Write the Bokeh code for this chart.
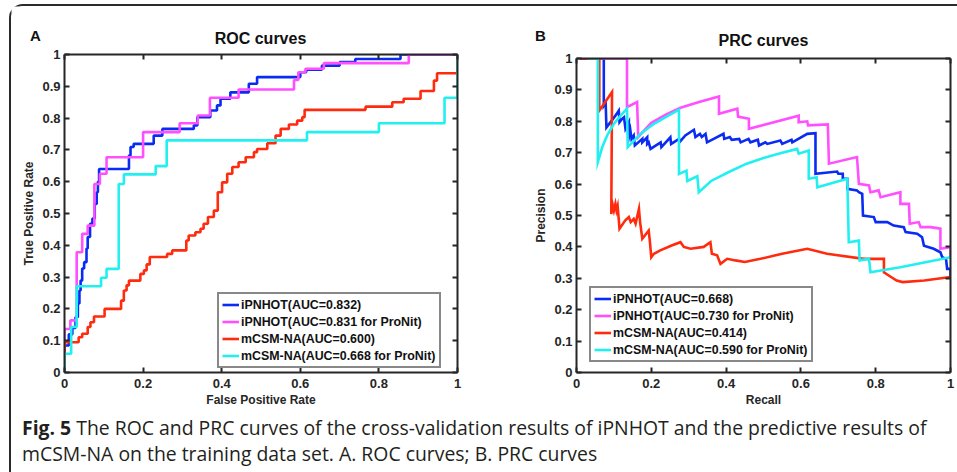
from bokeh.plotting import figure
from bokeh.models import Range1d, LinearAxis, FixedTicker, Legend, LegendItem, Label, Div
from bokeh.layouts import row, column
from bokeh.embed import file_html
from bokeh.resources import INLINE

# ---------------------------------------------------------------- data
tick_x = [0, 0.2, 0.4, 0.6, 0.8, 1]
tick_x_labels = ["0", "0.2", "0.4", "0.6", "0.8", "1"]
tick_y = [0, 0.1, 0.2, 0.3, 0.4, 0.5, 0.6, 0.7, 0.8, 0.9, 1]
tick_y_labels = ["0", "0.1", "0.2", "0.3", "0.4", "0.5", "0.6", "0.7", "0.8", "0.9", "1"]

roc_legend = ["iPNHOT(AUC=0.832)", "iPNHOT(AUC=0.831 for ProNit)",
              "mCSM-NA(AUC=0.600)", "mCSM-NA(AUC=0.668 for ProNit)"]
prc_legend = ["iPNHOT(AUC=0.668)", "iPNHOT(AUC=0.730 for ProNit)",
              "mCSM-NA(AUC=0.414)", "mCSM-NA(AUC=0.590 for ProNit)"]

# ROC curves: (FPR, TPR) steps, horizontal run then vertical jump
roc_fpr_ipnhot = [0, 0, 0.011, 0.02, 0.028, 0.034, 0.038, 0.041, 0.045, 0.05, 0.056, 0.059,
                  0.065, 0.071, 0.077, 0.082, 0.085, 0.088, 0.164, 0.168, 0.176, 0.227, 0.249,
                  0.329, 0.338, 0.371, 0.388, 0.397, 0.422, 0.469, 0.49, 0.60, 0.615, 0.655,
                  0.70, 0.74, 0.855, 1.0]
roc_tpr_ipnhot = [0, 0.085, 0.12, 0.14, 0.174, 0.217, 0.258, 0.289, 0.327, 0.347, 0.39, 0.426,
                  0.468, 0.484, 0.53, 0.567, 0.60, 0.64, 0.682, 0.709, 0.719, 0.745, 0.766,
                  0.777, 0.803, 0.824, 0.84, 0.861, 0.881, 0.908, 0.929, 0.944, 0.952, 0.965,
                  0.976, 0.986, 1.0, 1.0]

roc_fpr_ipnhot_pn = [0, 0, 0.015, 0.031, 0.045, 0.059, 0.076, 0.09, 0.107, 0.2, 0.293, 0.339,
                     0.37, 0.443, 0.584, 0.595, 0.613, 0.66, 0.876, 1.0]
roc_tpr_ipnhot_pn = [0, 0.137, 0.164, 0.378, 0.436, 0.462, 0.593, 0.625, 0.677, 0.756, 0.784,
                     0.808, 0.864, 0.89, 0.92, 0.944, 0.955, 0.973, 1.0, 1.0]

roc_fpr_mcsm = [0, 0, 0.036, 0.045, 0.059, 0.066, 0.075, 0.102, 0.144, 0.151, 0.158, 0.164,
                0.193, 0.202, 0.209, 0.217, 0.261, 0.274, 0.31, 0.316, 0.333, 0.346, 0.354,
                0.365, 0.38, 0.39, 0.401, 0.414, 0.427, 0.443, 0.461, 0.482, 0.49, 0.516,
                0.537, 0.55, 0.571, 0.592, 0.605, 0.611, 0.766, 0.834, 0.863, 0.906, 0.94,
                0.948, 1.0]
roc_tpr_mcsm = [0, 0.095, 0.111, 0.122, 0.143, 0.158, 0.176, 0.2, 0.226, 0.258, 0.274, 0.289,
                0.31, 0.321, 0.34, 0.363, 0.373, 0.384, 0.415, 0.431, 0.441, 0.452, 0.468,
                0.489, 0.509, 0.567, 0.598, 0.625, 0.646, 0.661, 0.677, 0.693, 0.703, 0.721,
                0.745, 0.766, 0.78, 0.792, 0.803, 0.826, 0.836, 0.85, 0.861, 0.885, 0.918,
                0.941, 1.0]

roc_fpr_mcsm_pn = [0, 0, 0.017, 0.031, 0.093, 0.107, 0.138, 0.151, 0.232, 0.26, 0.617, 0.80,
                   0.967, 1.0]
roc_tpr_mcsm_pn = [0, 0.059, 0.143, 0.271, 0.298, 0.326, 0.593, 0.623, 0.649, 0.73, 0.756,
                   0.784, 0.864, 1.0]

# PRC curves: (recall, precision) vertices
prc_rec_ipnhot = [0.011, 0.073, 0.073, 0.078, 0.08, 0.104, 0.113, 0.115, 0.122, 0.127, 0.131,
                  0.14, 0.14, 0.144, 0.147, 0.153, 0.156, 0.176, 0.176, 0.189, 0.189, 0.193,
                  0.198, 0.225, 0.227, 0.251, 0.253, 0.274, 0.275, 0.291, 0.314, 0.318, 0.33,
                  0.335, 0.345, 0.349, 0.393, 0.395, 0.41, 0.415, 0.435, 0.439, 0.46, 0.465,
                  0.485, 0.488, 0.505, 0.51, 0.545, 0.55, 0.575, 0.577, 0.617, 0.639, 0.639,
                  0.697, 0.70, 0.712, 0.712, 0.724, 0.724, 0.75, 0.755, 0.764, 0.766, 0.795,
                  0.80, 0.831, 0.848, 0.875, 0.88, 0.911, 0.924, 0.929, 0.955, 0.973, 0.978,
                  0.988, 0.991, 1.0, 1.0]
prc_pre_ipnhot = [1.0, 1.0, 0.85, 0.86, 0.78, 0.818, 0.834, 0.797, 0.808, 0.813, 0.776,
                  0.797, 0.749, 0.771, 0.744, 0.755, 0.723, 0.744, 0.733, 0.749, 0.728, 0.733,
                  0.712, 0.733, 0.718, 0.749, 0.728, 0.744, 0.733, 0.755, 0.773, 0.75, 0.76,
                  0.75, 0.76, 0.733, 0.76, 0.744, 0.75, 0.741, 0.744, 0.733, 0.744, 0.733,
                  0.741, 0.723, 0.733, 0.728, 0.739, 0.728, 0.741, 0.733, 0.76, 0.762, 0.633,
                  0.64, 0.633, 0.633, 0.617, 0.617, 0.585, 0.58, 0.574, 0.569, 0.5, 0.495,
                  0.479, 0.479, 0.468, 0.463, 0.447, 0.442, 0.431, 0.404, 0.394, 0.383, 0.367,
                  0.362, 0.33, 0.33, 0.304]

prc_rec_ipnhot_pn = [0.011, 0.135, 0.135, 0.162, 0.165, 0.2, 0.24, 0.278, 0.33, 0.381, 0.381,
                     0.43, 0.432, 0.461, 0.461, 0.594, 0.594, 0.617, 0.619, 0.672, 0.675, 0.75,
                     0.755, 0.782, 0.786, 0.808, 0.813, 0.866, 0.866, 0.889, 0.891, 0.915, 0.92,
                     0.947, 0.973, 0.973, 1.0, 1.0]
prc_pre_ipnhot_pn = [1.0, 1.0, 0.845, 0.861, 0.75, 0.795, 0.822, 0.843, 0.862, 0.879, 0.824,
                     0.84, 0.815, 0.808, 0.776, 0.818, 0.797, 0.80, 0.787, 0.79, 0.665, 0.686,
                     0.601, 0.596, 0.574, 0.58, 0.558, 0.574, 0.537, 0.537, 0.474, 0.479, 0.463,
                     0.463, 0.458, 0.394, 0.399, 0.367]

prc_rec_mcsm = [0.011, 0.061, 0.061, 0.095, 0.093, 0.097, 0.10, 0.104, 0.107, 0.11, 0.115,
                0.13, 0.14, 0.145, 0.153, 0.158, 0.167, 0.17, 0.176, 0.193, 0.196, 0.2, 0.207,
                0.224, 0.256, 0.278, 0.287, 0.305, 0.34, 0.358, 0.362, 0.376, 0.385, 0.403,
                0.425, 0.45, 0.492, 0.55, 0.617, 0.67, 0.768, 0.822, 0.822, 0.84, 0.856,
                0.872, 0.93, 1.0]
prc_pre_mcsm = [1.0, 1.0, 0.834, 0.893, 0.505, 0.532, 0.516, 0.537, 0.516, 0.53, 0.458, 0.484,
                0.495, 0.479, 0.489, 0.474, 0.521, 0.479, 0.426, 0.452, 0.42, 0.367, 0.378,
                0.389, 0.405, 0.415, 0.40, 0.394, 0.40, 0.415, 0.378, 0.373, 0.346, 0.362,
                0.357, 0.352, 0.362, 0.378, 0.394, 0.378, 0.362, 0.362, 0.319, 0.305, 0.293,
                0.288, 0.293, 0.304]

prc_rec_mcsm_pn = [0.029, 0.057, 0.057, 0.069, 0.082, 0.10, 0.118, 0.135, 0.137, 0.171, 0.207,
                   0.242, 0.274, 0.274, 0.294, 0.296, 0.323, 0.327, 0.36, 0.41, 0.455, 0.50,
                   0.545, 0.59, 0.594, 0.621, 0.621, 0.642, 0.644, 0.724, 0.728, 0.755, 0.757,
                   0.782, 0.786, 0.866, 1.0]
prc_pre_mcsm_pn = [1.0, 1.0, 0.67, 0.718, 0.755, 0.792, 0.818, 0.84, 0.718, 0.76, 0.792,
                   0.816, 0.837, 0.632, 0.643, 0.61, 0.625, 0.574, 0.61, 0.64, 0.665, 0.683,
                   0.698, 0.712, 0.697, 0.707, 0.617, 0.622, 0.59, 0.617, 0.415, 0.42, 0.357,
                   0.362, 0.319, 0.335, 0.367]

caption_bold = "Fig. 5"
caption_line1 = ("The ROC and PRC curves of the cross-validation results of iPNHOT and "
                 "the predictive results of")
caption_line2 = "mCSM-NA on the training data set. A. ROC curves; B. PRC curves"

# ---------------------------------------------------------------- style
FONT = "Liberation Sans"
INK = "#262626"
COLORS = ["#0a2cf2", "#ff4fff", "#ff2b0e", "#22f0f0"]
LW = 2.6


def style_axis(ax, ticks, labels, show_labels=True, tick_standoff=4, label_standoff=3):
    ax.ticker = FixedTicker(ticks=ticks)
    ax.minor_tick_line_color = None
    ax.major_tick_in = 5
    ax.major_tick_out = 0
    ax.major_tick_line_width = 2
    ax.major_tick_line_color = INK
    ax.axis_line_width = 2
    ax.axis_line_color = INK
    ax.major_label_text_font = FONT
    ax.major_label_text_font_style = "bold"
    ax.major_label_text_color = INK
    ax.axis_label_text_font = FONT
    ax.axis_label_text_font_style = "bold"
    ax.axis_label_text_font_size = "12px"
    ax.axis_label_text_color = INK
    ax.axis_label_standoff = label_standoff
    if show_labels:
        ax.major_label_overrides = {t: s for t, s in zip(ticks, labels)}
        ax.major_label_text_font_size = "13px"
        ax.major_label_standoff = tick_standoff
    else:
        # box side: ticks and line only
        ax.major_label_overrides = {t: "" for t in ticks}
        ax.major_label_text_font_size = "1px"
        ax.major_label_text_color = None
        ax.major_label_standoff = 0
        ax.axis_label_standoff = 0


def make_panel(xlabel, ylabel, fw, fh, left, right, top, bottom):
    p = figure(frame_width=fw, frame_height=fh, x_range=Range1d(0, 1), y_range=Range1d(0, 1),
               output_backend="svg", toolbar_location=None, frame_align=False,
               min_border_left=left, min_border_right=right,
               min_border_top=top, min_border_bottom=bottom)
    p.grid.visible = False
    p.outline_line_color = None
    p.background_fill_color = "white"
    p.border_fill_color = "white"
    p.xaxis.axis_label = xlabel
    p.yaxis.axis_label = ylabel
    style_axis(p.xaxis[0], tick_x, tick_x_labels, tick_standoff=6, label_standoff=2)
    style_axis(p.yaxis[0], tick_y, tick_y_labels, tick_standoff=4, label_standoff=3)
    top_ax = LinearAxis()
    style_axis(top_ax, tick_x, tick_x_labels, show_labels=False)
    right_ax = LinearAxis()
    style_axis(right_ax, tick_y, tick_y_labels, show_labels=False)
    p.add_layout(top_ax, "above")
    p.add_layout(right_ax, "right")
    return p


def header(width, height, letter, lx, ly, title, tx, ty):
    # strip above a panel carrying the panel letter and the panel title
    h = figure(title=None, frame_width=width, frame_height=height,
               x_range=Range1d(0, width), y_range=Range1d(height, 0),
               x_axis_location=None, y_axis_location=None, output_backend="svg",
               toolbar_location=None, frame_align=False,
               min_border_left=0, min_border_right=0, min_border_top=0, min_border_bottom=0)
    h.grid.visible = False
    h.outline_line_color = None
    h.background_fill_color = "white"
    h.border_fill_color = "white"
    for text, x, y, size in ((letter, lx, ly, "15px"), (title, tx, ty, "16px")):
        h.add_layout(Label(x=x, y=y, text=text, text_font=FONT, text_font_style="bold",
                           text_font_size=size, text_color="#111111",
                           text_align="center", text_baseline="middle"))
    return h


def add_legend(p, renderers, labels, loc):
    legend = Legend(items=[LegendItem(label=l, renderers=[r]) for l, r in zip(labels, renderers)],
                    location=loc, orientation="vertical")
    legend.label_text_font = FONT
    legend.label_text_font_style = "bold"
    legend.label_text_font_size = "12.4px"
    legend.label_text_color = "#111111"
    legend.label_height = 15
    legend.glyph_height = 15
    legend.glyph_width = 17
    legend.label_standoff = 2
    legend.spacing = 2
    legend.padding = 3
    legend.margin = 0
    legend.border_line_color = "#111111"
    legend.border_line_width = 2
    legend.background_fill_color = "white"
    legend.background_fill_alpha = 1
    p.add_layout(legend)


# ---------------------------------------------------------------- ROC panel
roc = make_panel("False Positive Rate", "True Positive Rate", 393, 318, 53, 54, 8, 40)
roc_series = [(roc_fpr_ipnhot, roc_tpr_ipnhot), (roc_fpr_ipnhot_pn, roc_tpr_ipnhot_pn),
              (roc_fpr_mcsm, roc_tpr_mcsm), (roc_fpr_mcsm_pn, roc_tpr_mcsm_pn)]
roc_r = [roc.step(x, y, mode="after", line_color=c, line_width=LW)
         for (x, y), c in zip(roc_series, COLORS)]
add_legend(roc, roc_r, roc_legend, (153, 4))

# ---------------------------------------------------------------- PRC panel
prc = make_panel("Recall", "Precision", 374, 314, 65, 7, 9, 40)
prc_series = [(prc_rec_ipnhot, prc_pre_ipnhot), (prc_rec_ipnhot_pn, prc_pre_ipnhot_pn),
              (prc_rec_mcsm, prc_pre_mcsm), (prc_rec_mcsm_pn, prc_pre_mcsm_pn)]
prc_r = [prc.line(x, y, line_color=c, line_width=LW, line_join="miter")
         for (x, y), c in zip(prc_series, COLORS)]
add_legend(prc, prc_r, prc_legend, (13, 10))

roc_head = header(500, 40, "A", 24, 29, "ROC curves", 249, 32)
prc_head = header(446, 43, "B", 29, 29, "PRC curves", 252, 34)

# ---------------------------------------------------------------- caption
caption = Div(
    text=f"<b>{caption_bold}</b> {caption_line1}<br>{caption_line2}",
    width=935, height=60, margin=0,
    styles={"font-family": "'Open Sans', sans-serif", "font-size": "19.4px",
            "line-height": "26px", "color": "#231f20", "padding-left": "11px",
            "padding-top": "3px", "white-space": "nowrap"})

page = column(row(column(roc_head, roc), column(prc_head, prc)), caption,
              styles={"border-left": "2px solid #2b2b2b", "border-top": "2px solid #2b2b2b",
                      "border-top-left-radius": "14px", "margin-left": "9px",
                      "margin-top": "4px", "background-color": "white"})

open("out.html", "w").write(file_html(page, INLINE))
